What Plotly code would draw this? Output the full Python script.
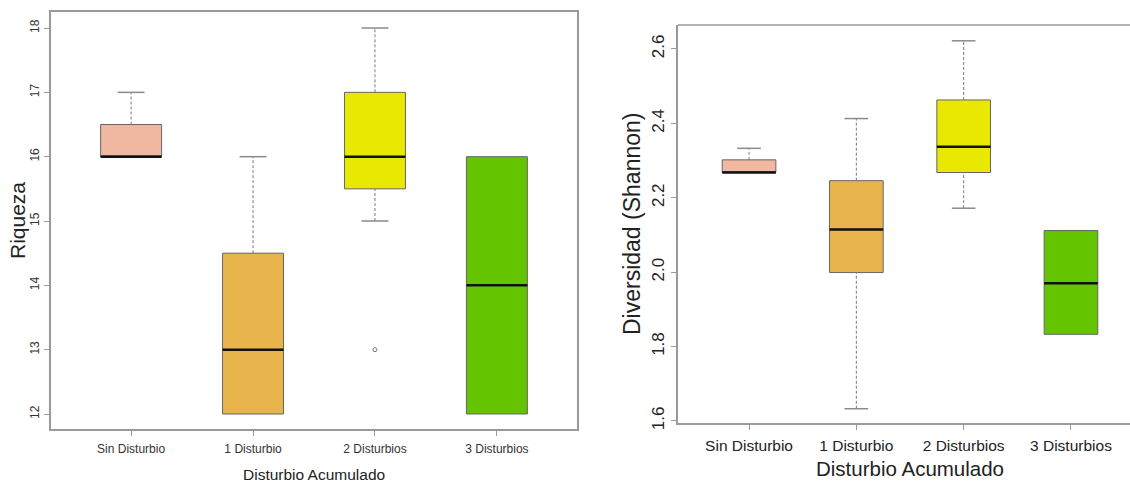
import plotly.graph_objects as go

# Categories of accumulated disturbance
categories = ["Sin Disturbio", "1 Disturbio", "2 Disturbios", "3 Disturbios"]
box_colors = ["#F0B8A0", "#E8B54C", "#E8E800", "#64C400"]

# Species richness (Riqueza) box statistics
riq_low = [16, 12, 15, 12]
riq_q1 = [16, 12, 15.5, 12]
riq_med = [16, 13, 16, 14]
riq_q3 = [16.5, 14.5, 17, 16]
riq_high = [17, 16, 18, 16]
riq_outliers = [[], [], [13], []]

# Shannon diversity box statistics
sha_low = [2.268, 1.633, 2.172, 1.833]
sha_q1 = [2.268, 1.999, 2.268, 1.833]
sha_med = [2.268, 2.115, 2.337, 1.970]
sha_q3 = [2.302, 2.246, 2.463, 2.112]
sha_high = [2.333, 2.413, 2.622, 2.112]
sha_outliers = [[], [], [], []]

riq_ticks = [12, 13, 14, 15, 16, 17, 18]
sha_ticks = [1.6, 1.8, 2.0, 2.2, 2.4, 2.6]
sha_ticktext = ["1.6", "1.8", "2.0", "2.2", "2.4", "2.6"]

FONT = "Liberation Sans, Arial, sans-serif"
FRAME = "#9a9a9a"
EDGE = "#666666"
BOX_W = 0.5
CAP_W = 0.22

fig = go.Figure()


def add_panel(low, q1, med, q3, high, outliers, xa, ya):
    pos = list(range(1, len(categories) + 1))
    for i, c in enumerate(categories):
        fig.add_trace(go.Box(
            x=[pos[i]], q1=[q1[i]], median=[med[i]], q3=[q3[i]],
            lowerfence=[q1[i]], upperfence=[q3[i]],
            width=BOX_W, whiskerwidth=0, fillcolor=box_colors[i],
            line=dict(color=EDGE, width=1), boxpoints=False,
            xaxis=xa, yaxis=ya, showlegend=False, name=c, hoverinfo="skip"))
    # dashed whiskers
    wx, wy = [], []
    cx, cy = [], []
    for i in range(len(categories)):
        p = pos[i]
        if high[i] > q3[i]:
            wx += [p, p, None]
            wy += [q3[i], high[i], None]
            cx += [p - CAP_W / 2, p + CAP_W / 2, None]
            cy += [high[i], high[i], None]
        if low[i] < q1[i]:
            wx += [p, p, None]
            wy += [low[i], q1[i], None]
            cx += [p - CAP_W / 2, p + CAP_W / 2, None]
            cy += [low[i], low[i], None]
    fig.add_trace(go.Scatter(x=wx, y=wy, mode="lines",
                             line=dict(color="#7a7a7a", width=1, dash="3px,2px"),
                             xaxis=xa, yaxis=ya, showlegend=False, hoverinfo="skip"))
    fig.add_trace(go.Scatter(x=cx, y=cy, mode="lines",
                             line=dict(color="#8a8a8a", width=1.5),
                             xaxis=xa, yaxis=ya, showlegend=False, hoverinfo="skip"))
    # thick black medians
    mx, my = [], []
    for i in range(len(categories)):
        mx += [pos[i] - BOX_W / 2, pos[i] + BOX_W / 2, None]
        my += [med[i], med[i], None]
    fig.add_trace(go.Scatter(x=mx, y=my, mode="lines",
                             line=dict(color="#111111", width=2.5),
                             xaxis=xa, yaxis=ya, showlegend=False, hoverinfo="skip"))
    # outliers
    ox, oy = [], []
    for i, vals in enumerate(outliers):
        for v in vals:
            ox.append(pos[i])
            oy.append(v)
    if ox:
        fig.add_trace(go.Scatter(x=ox, y=oy, mode="markers",
                                 marker=dict(symbol="circle-open", size=4,
                                             color="#777777", line=dict(width=1)),
                                 xaxis=xa, yaxis=ya, showlegend=False, hoverinfo="skip"))


add_panel(riq_low, riq_q1, riq_med, riq_q3, riq_high, riq_outliers, "x", "y")
add_panel(sha_low, sha_q1, sha_med, sha_q3, sha_high, sha_outliers, "x2", "y2")

W, H = 1130, 483
xcommon = dict(tickvals=[1, 2, 3, 4], ticktext=categories, ticks="outside",
               ticklen=5, tickcolor=FRAME, showline=True, linecolor=FRAME,
               linewidth=1.5, showgrid=False, zeroline=False, ticklabelstandoff=3)
ycommon = dict(ticks="outside", ticklen=5, tickcolor=FRAME, showline=True,
               linecolor=FRAME, linewidth=1.5, showgrid=False, zeroline=False,
               tickangle=-90)

fig.update_layout(
    width=W, height=H,
    margin=dict(l=0, r=0, t=0, b=0, autoexpand=False),
    paper_bgcolor="white", plot_bgcolor="white",
    font=dict(family=FONT, color="#222222"),
    xaxis=dict(domain=[51 / W, 577 / W], range=[0.343, 4.657], mirror=True,
               tickfont=dict(size=12, color="#333333"), **xcommon),
    yaxis=dict(domain=[(H - 429) / H, (H - 12) / H], range=[11.767, 18.249],
               tickvals=riq_ticks, tickfont=dict(size=12, color="#333333"),
               mirror=True, anchor="x", **ycommon),
    xaxis2=dict(domain=[678 / W, 1.0], range=[0.338, 4.55], anchor="y2",
                mirror=False, tickfont=dict(size=15.5, color="#222222"), **xcommon),
    yaxis2=dict(domain=[(H - 423) / H, (H - 25) / H], range=[1.5946, 2.6645],
                tickvals=sha_ticks, ticktext=sha_ticktext, anchor="x2",
                tickfont=dict(size=17, color="#222222"), **ycommon),
    annotations=[
        dict(text="Riqueza", x=17 / W, y=(H - 221) / H, xref="paper", yref="paper",
             textangle=-90, showarrow=False, font=dict(size=21, color="#222222"),
             xanchor="center", yanchor="middle"),
        dict(text="Disturbio Acumulado", x=314 / W, y=(H - 474) / H, xref="paper",
             yref="paper", showarrow=False, font=dict(size=15.5, color="#222222"),
             xanchor="center", yanchor="middle"),
        dict(text="Diversidad (Shannon)", x=632 / W, y=(H - 224) / H, xref="paper",
             yref="paper", textangle=-90, showarrow=False,
             font=dict(size=23, color="#222222"), xanchor="center", yanchor="middle"),
        dict(text="Disturbio Acumulado", x=910 / W, y=(H - 468) / H, xref="paper",
             yref="paper", showarrow=False, font=dict(size=20.5, color="#222222"),
             xanchor="center", yanchor="middle"),
    ],
)

# top frame line of the right panel (its right edge falls outside the page)
fig.add_shape(type="line", xref="x2 domain", yref="y2 domain", x0=0, x1=1, y0=1, y1=1,
              line=dict(color=FRAME, width=1.5))

fig.write_html("out.html")
